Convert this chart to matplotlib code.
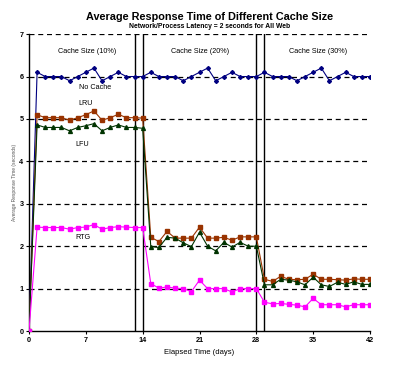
import matplotlib
matplotlib.use("Agg")
import matplotlib.pyplot as plt

plt.rcParams["font.family"] = ["Liberation Sans", "DejaVu Sans"]

days = list(range(43))

no_cache = [0.0,
            6.1, 6.0, 6.0, 6.0, 5.9, 6.0, 6.1, 6.2, 5.9, 6.0, 6.1, 6.0, 6.0, 6.0,
            6.1, 6.0, 6.0, 6.0, 5.9, 6.0, 6.1, 6.2, 5.9, 6.0, 6.1, 6.0, 6.0, 6.0,
            6.1, 6.0, 6.0, 6.0, 5.9, 6.0, 6.1, 6.2, 5.9, 6.0, 6.1, 6.0, 6.0, 6.0]
lru = [0.0,
       5.1, 5.03, 5.03, 5.03, 4.97, 5.03, 5.1, 5.19, 4.97, 5.03, 5.11, 5.03, 5.03, 5.02,
       2.21, 2.11, 2.35, 2.19, 2.19, 2.19, 2.45, 2.19, 2.19, 2.21, 2.14, 2.22, 2.22, 2.22,
       1.22, 1.17, 1.29, 1.22, 1.21, 1.22, 1.34, 1.22, 1.22, 1.21, 1.2, 1.23, 1.22, 1.22]
lfu = [0.0,
       4.86, 4.8, 4.8, 4.8, 4.72, 4.8, 4.84, 4.89, 4.72, 4.8, 4.86, 4.8, 4.8, 4.78,
       1.99, 1.97, 2.21, 2.19, 2.08, 1.99, 2.33, 2.0, 1.89, 2.09, 1.98, 2.09, 2.0, 2.0,
       1.09, 1.09, 1.22, 1.2, 1.16, 1.09, 1.27, 1.09, 1.05, 1.15, 1.1, 1.16, 1.1, 1.1]
rtg = [0.0,
       2.45, 2.44, 2.44, 2.44, 2.4, 2.44, 2.45, 2.51, 2.4, 2.44, 2.46, 2.45, 2.44, 2.44,
       1.12, 1.01, 1.04, 1.01, 1.0, 0.93, 1.2, 1.0, 1.0, 1.0, 0.92, 1.0, 1.0, 1.0,
       0.68, 0.64, 0.65, 0.63, 0.61, 0.57, 0.77, 0.62, 0.62, 0.62, 0.57, 0.62, 0.62, 0.62]

boundaries = [13, 14, 28, 29]
sections = ["Cache Size (10%)", "Cache Size (20%)", "Cache Size (30%)"]
section_x = [7.1, 21.1, 35.6]
x_ticks = [0, 7, 14, 21, 28, 35, 42]
y_ticks = [0, 1, 2, 3, 4, 5, 6, 7]

fig = plt.figure(figsize=(4.2, 3.67), dpi=100)
ax = fig.add_axes([0.069, 0.098, 0.812, 0.809])

for y in y_ticks[1:]:
    ax.axhline(y, color="black", linestyle=(0, (4, 3)), linewidth=0.9, zorder=1)
for b in boundaries:
    ax.axvline(b, color="black", linewidth=1.0, zorder=1)

ax.plot(days, no_cache, color="#000080", marker="D", markersize=2.0, linewidth=0.8, zorder=3)
ax.plot(days, lru, color="#993300", marker="s", markersize=2.2, linewidth=0.8, zorder=3)
ax.plot(days, lfu, color="#003300", marker="^", markersize=2.8, linewidth=0.8, zorder=3)
ax.plot(days, rtg, color="#FF00FF", marker="s", markersize=2.8, linewidth=0.8, zorder=3)

for label, x in zip(sections, section_x):
    ax.text(x, 6.58, label, ha="center", va="center", fontsize=5.2)
ax.text(8.1, 5.75, "No Cache", ha="center", va="center", fontsize=5.2)
ax.text(7.0, 5.37, "LRU", ha="center", va="center", fontsize=5.2)
ax.text(6.5, 4.4, "LFU", ha="center", va="center", fontsize=5.2)
ax.text(6.7, 2.21, "RTG", ha="center", va="center", fontsize=5.2)

ax.set_xlim(0, 42)
ax.set_ylim(0, 7)
ax.set_xticks(x_ticks)
ax.set_yticks(y_ticks)
ax.tick_params(labelsize=5.2, length=2, width=0.8, pad=2)
for lab in ax.get_xticklabels() + ax.get_yticklabels():
    lab.set_fontweight("bold")
ax.spines["top"].set_visible(False)
ax.spines["right"].set_visible(False)
ax.spines["left"].set_linewidth(1.0)
ax.spines["bottom"].set_linewidth(1.0)

ax.set_xlabel("Elapsed Time (days)", fontsize=5.5, labelpad=4)
ax.set_ylabel("Average Response Time (seconds)", fontsize=3.5, color="#555555", labelpad=2)

fig.text(0.5, 0.955, "Average Response Time of Different Cache Size",
         ha="center", va="center", fontsize=7.8, fontweight="bold")
fig.text(0.5, 0.928, "Network/Process Latency = 2 seconds for All Web",
         ha="center", va="center", fontsize=4.9, fontweight="bold")

fig.savefig("out.png", dpi=100)
